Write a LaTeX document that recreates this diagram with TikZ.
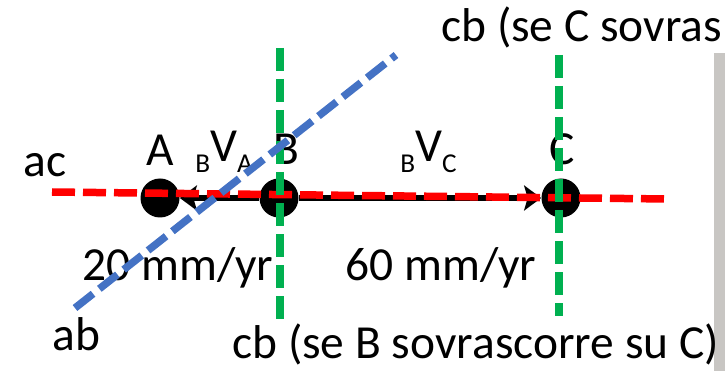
\documentclass[tikz,border=0pt]{standalone}
\usepackage{fontspec}
\setmainfont{Carlito}
\usetikzlibrary{arrows.meta}
\definecolor{ptred}{RGB}{255,0,0}
\definecolor{ptgreen}{RGB}{0,176,80}
\definecolor{ptblue}{RGB}{68,114,196}
\definecolor{ptgray}{RGB}{200,198,195}
\newcommand{\lo}[1]{\raisebox{-0.22cm}{\fontsize{15.5}{16}\selectfont #1}}

\begin{document}
\begin{tikzpicture}[
  lbl/.style={font=\fontsize{27}{31}\selectfont, inner sep=0pt},
  plate/.style={circle, fill=black, minimum size=0.78cm, inner sep=0pt},
  vel/.style={line width=0.13cm, -{Stealth[length=0.34cm, width=0.5cm, inset=0.07cm]}},
  bound/.style={line width=0.15cm, dash pattern=on 0.46cm off 0.16cm}
]
\useasboundingbox (0,0) rectangle (14.5,7.42);
\fill[ptgray] (14.28,6.36) rectangle (14.5,0);
\node[lbl, anchor=base west] (ac) at (0.46,3.88) {ac};
\node[lbl, anchor=base] (lA) at (3.2,4.10) {A};
\node[lbl, anchor=base] (lB) at (5.72,4.12) {B};
\node[lbl, anchor=base] (lC) at (11.24,4.12) {C};
\node[lbl, anchor=base west] (vBA) at (3.9,4.18) {\lo{B}V\lo{A}};
\node[lbl, anchor=base west] (vBC) at (8.0,4.18) {\lo{B}V\lo{C}};
\node[lbl, anchor=base west] (rA) at (1.64,1.82) {20 mm/yr};
\node[lbl, anchor=base west] (rC) at (6.9,1.82) {60 mm/yr};
\node[lbl, anchor=base west] (ab) at (1.04,0.42) {ab};
\node[lbl, anchor=base west] (cbB) at (4.64,0.26) {cb (se B sovrascorre su C)};
\node[lbl, anchor=base west] (cbC) at (8.82,6.58) {cb (se C sovras};
\node[plate] (A) at (3.2,3.46) {};
\node[plate] (B) at (5.58,3.46) {};
\node[plate] (C) at (11.22,3.46) {};
\draw[vel] (B) -- (A);
\draw[vel] (B) -- (C);
\coordinate (ac1) at (1.04,3.58);
\coordinate (ac2) at (13.36,3.44);
\coordinate (bB1) at (5.6,6.46);
\coordinate (bB2) at (5.6,0.88);
\coordinate (bC1) at (11.18,6.32);
\coordinate (bC2) at (11.18,1.10);
\coordinate (ab1) at (1.5,1.26);
\coordinate (ab2) at (7.92,6.32);
\draw[bound, ptred] (ac1) -- (ac2);
\draw[bound, ptgreen] (bB1) -- (bB2);
\draw[bound, ptgreen] (bC1) -- (bC2);
\draw[bound, ptblue] (ab1) -- (ab2);
\end{tikzpicture}
\end{document}
